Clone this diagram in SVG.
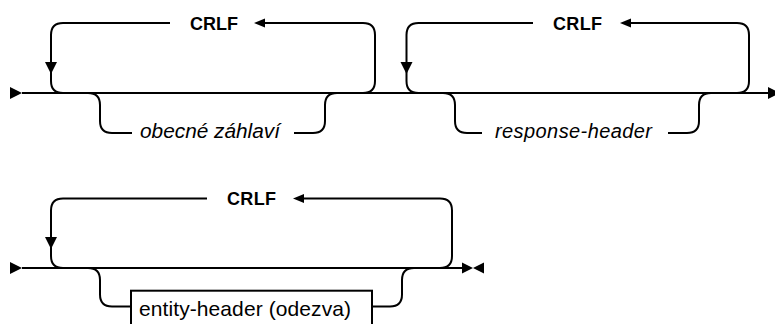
<svg xmlns="http://www.w3.org/2000/svg" width="775" height="324" viewBox="0 0 775 324">
<style>
.ln{fill:none;stroke:#000;stroke-width:2;stroke-linecap:butt}
.ah{fill:#000;stroke:none}
.t{font-family:"Liberation Sans",Arial,sans-serif;font-size:20px;fill:#000}
.b{font-weight:bold;font-size:18px}
.i{font-style:italic}
.box{fill:#fff;stroke:#000;stroke-width:2}
</style>
<rect width="775" height="324" fill="#fff"/>
<g id="connectors">
  <path class="ln" d="M22,93 L769,93"/>
  <polygon class="ah" points="10,87 22,93 10,99"/>
  <polygon class="ah" points="768,87 780,93 768,99"/>
  <path class="ln" d="M63,93 Q51,93 51,81 L51,35 Q51,23 63,23 L170,23"/>
  <path class="ln" d="M363,93 Q375,93 375,81 L375,35 Q375,23 363,23 L262,23"/>
  <polygon class="ah" points="254,23 265,18.5 265,27.5"/>
  <polygon class="ah" points="45,62 57,62 51,74"/>
  <path class="ln" d="M88,93 Q100,93 100,105 L100,121 Q100,133 112,133 L132,133"/>
  <path class="ln" d="M294,133 L313,133 Q325,133 325,121 L325,105 Q325,93 337,93"/>
  <path class="ln" d="M418.5,93 Q406.5,93 406.5,81 L406.5,35 Q406.5,23 418.5,23 L533,23"/>
  <path class="ln" d="M737,93 Q749,93 749,81 L749,35 Q749,23 737,23 L628,23"/>
  <polygon class="ah" points="620,23 631,18.5 631,27.5"/>
  <polygon class="ah" points="400.5,62 412.5,62 406.5,74"/>
  <path class="ln" d="M443,93 Q455,93 455,105 L455,121 Q455,133 467,133 L482,133"/>
  <path class="ln" d="M668,133 L687,133 Q699,133 699,121 L699,105 Q699,93 711,93"/>
  <path class="ln" d="M22,268 L463,268"/>
  <polygon class="ah" points="10,262 22,268 10,274"/>
  <polygon class="ah" points="462,262.5 473,268 462,273.5"/>
  <polygon class="ah" points="484,262.5 473,268 484,273.5"/>
  <path class="ln" d="M63,268 Q51,268 51,256 L51,210.5 Q51,198.5 63,198.5 L207,198.5"/>
  <path class="ln" d="M440,268 Q452,268 452,256 L452,210.5 Q452,198.5 440,198.5 L301,198.5"/>
  <polygon class="ah" points="293,198.5 304,194 304,203"/>
  <polygon class="ah" points="45,237 57,237 51,249"/>
  <path class="ln" d="M88,268 Q100,268 100,280 L100,294.5 Q100,306.5 112,306.5 L131,306.5"/>
  <path class="ln" d="M372,306.5 L390,306.5 Q402,306.5 402,294.5 L402,280 Q402,268 414,268"/>
</g>
<g id="crlf1"><text class="t b" x="190" y="30" textLength="48">CRLF</text></g>
<g id="obecne-zahlavi"><text class="t i" x="140" y="138" textLength="140" lengthAdjust="spacingAndGlyphs">obecné záhlaví</text></g>
<g id="crlf2"><text class="t b" x="553" y="30" textLength="49">CRLF</text></g>
<g id="response-header"><text class="t i" x="495" y="138" textLength="157">response-header</text></g>
<g id="crlf3"><text class="t b" x="227" y="205" textLength="49">CRLF</text></g>
<g id="entity-header">
  <rect class="box" x="131" y="290.7" width="241" height="44"/>
  <text class="t" x="139" y="315.5" font-size="21" style="font-size:21px" textLength="212">entity-header (odezva)</text>
</g>
</svg>
